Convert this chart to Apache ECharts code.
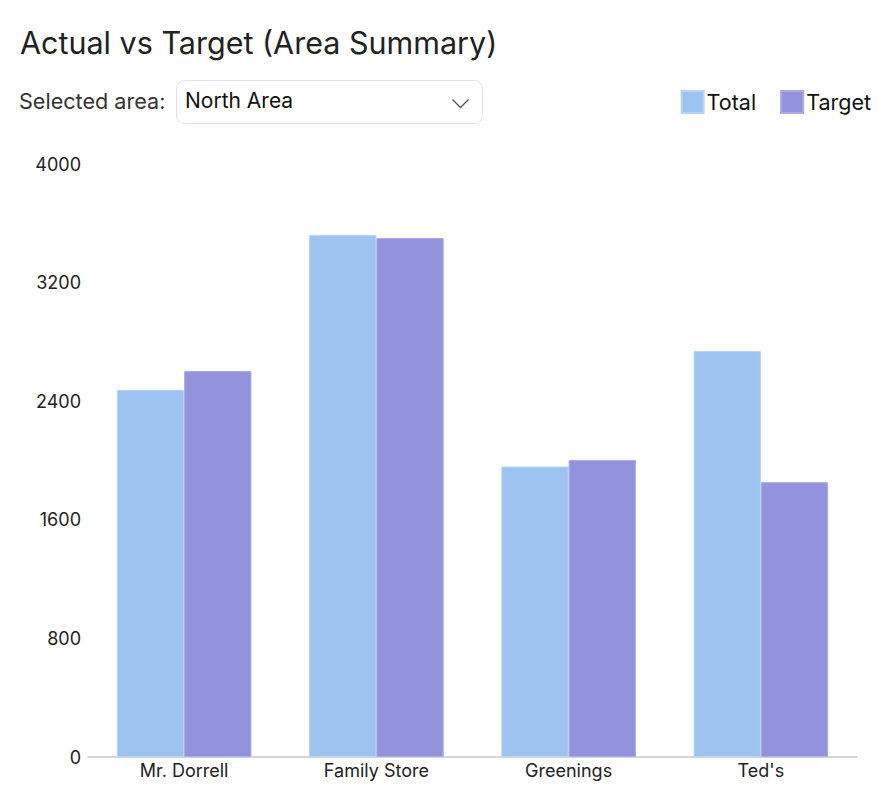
<!DOCTYPE html>
<html>
<head>
<meta charset="utf-8">
<script src="https://cdn.jsdelivr.net/npm/echarts@6/dist/echarts.min.js"></script>
<style>
html,body{margin:0;padding:0;background:#fff;}
#chart{width:890px;height:802px;}
</style>
</head>
<body>
<div id="chart"></div>
<script>
const categories = ["Mr. Dorrell", "Family Store", "Greenings", "Ted's"];
const totalValues = [2475, 3521, 1959, 2738];
const targetValues = [2603, 3501, 2004, 1854];
const yTicks = [0, 800, 1600, 2400, 3200, 4000];
const titleText = "Actual vs Target (Area Summary)";
const selectorLabel = "Selected area:";
const selectedArea = "North Area";

const FONT = "Inter, 'Noto Sans', sans-serif";
const chart = echarts.init(document.getElementById('chart'), null, {renderer: 'svg'});
chart.setOption({
  animation: false,
  textStyle: {fontFamily: FONT},
  title: {
    text: titleText,
    left: 15, top: 22,
    textStyle: {fontFamily: FONT, fontSize: 30.5, fontWeight: 'normal', color: '#222'}
  },
  legend: {
    right: 14, top: 85,
    itemWidth: 22, itemHeight: 22, itemGap: 24,
    icon: 'rect',
    textStyle: {fontFamily: FONT, fontSize: 21.5, color: '#111', padding: [0, 0, 0, -2]},
    data: ['Total', 'Target']
  },
  graphic: [
    {type: 'text', left: 19, top: 90, style: {text: selectorLabel, fontFamily: FONT, fontSize: 21.6, fill: '#333'}},
    {type: 'rect', left: 176, top: 80, shape: {width: 306, height: 43, r: 8}, style: {fill: '#fff', stroke: '#e2e2e2', lineWidth: 1}},
    {type: 'text', left: 185, top: 90, style: {text: selectedArea, fontFamily: FONT, fontSize: 21, fill: '#111'}},
    {type: 'polyline', left: 450, top: 97, shape: {points: [[0,0],[8,8],[16,0]]}, style: {stroke: '#555', lineWidth: 1.3, fill: null}}
  ],
  grid: {left: 88, right: 33, top: 164, bottom: 45, containLabel: false},
  xAxis: {
    type: 'category',
    data: categories,
    axisLine: {lineStyle: {color: '#c8c8c8', width: 1.5}},
    axisTick: {show: false},
    axisLabel: {fontFamily: FONT, fontSize: 18, color: '#222', margin: 4}
  },
  yAxis: {
    type: 'value',
    min: yTicks[0], max: yTicks[yTicks.length - 1], interval: yTicks[1] - yTicks[0],
    splitLine: {show: false},
    axisLine: {show: false},
    axisTick: {show: false},
    axisLabel: {fontFamily: FONT, fontSize: 18, color: '#222', margin: 7, formatter: function (v) { return String(v); }}
  },
  series: [
    {name: 'Total', type: 'bar', data: totalValues, barGap: '0%', barCategoryGap: '30%',
     itemStyle: {color: '#9dc3f0', borderColor: '#b7d3f5', borderWidth: 1}},
    {name: 'Target', type: 'bar', data: targetValues, barGap: '0%', barCategoryGap: '30%',
     itemStyle: {color: '#9393dd', borderColor: '#a9a9e6', borderWidth: 1}}
  ]
});
</script>
</body>
</html>
